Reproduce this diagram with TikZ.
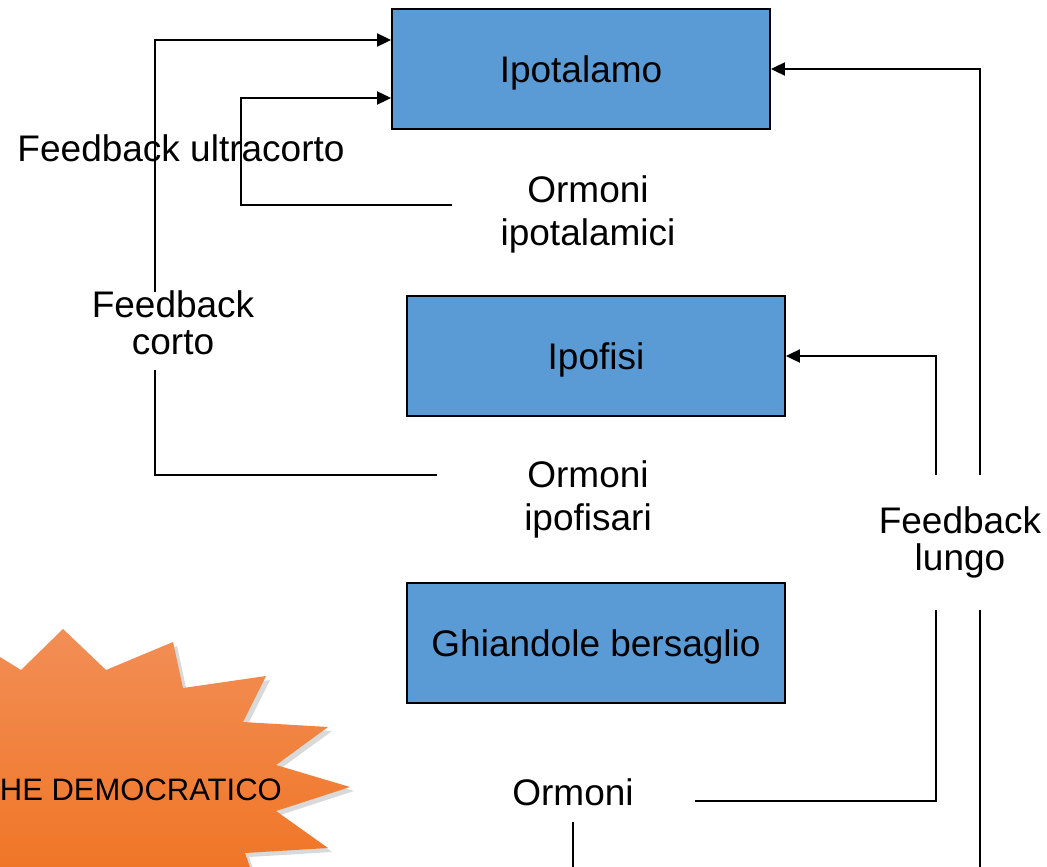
\documentclass[tikz,border=0pt]{standalone}
\usepackage{fontspec}
\setmainfont{Liberation Sans}
\usetikzlibrary{arrows.meta}
\definecolor{boxblue}{RGB}{91,155,213}
\definecolor{burstlight}{RGB}{242,142,86}
\definecolor{burstdark}{RGB}{240,116,34}
\newcommand{\burstpath}{(-8,652) -- (21,670) -- (63,629) -- (106,670) -- (173,642) -- (183,688) -- (266,676) -- (243,722) -- (328,727) -- (276,765) -- (350,787) -- (276,811) -- (328,848) -- (245,853) -- (258,890) -- (-8,890) -- cycle}
\begin{document}
\begin{tikzpicture}[
    x=1pt, y=-1pt,
    gland/.style={rectangle, draw, line width=1.8pt, fill=boxblue, minimum width=378pt, minimum height=120pt, text depth=0pt, font=\fontsize{37}{43}\selectfont},
    hormone/.style={align=center, inner sep=0pt, font=\fontsize{37}{43}\selectfont},
    fblabel/.style={align=center, inner sep=0pt, font=\fontsize{37}{37}\selectfont},
    link/.style={line width=1.9pt},
    arrow/.style={link, -{Triangle[length=14pt,width=13pt]}}
]
\useasboundingbox (0,0) rectangle (1047,867);
\clip (0,0) rectangle (1047,867);

% Starburst in basso a sinistra
\fill[black!25, opacity=0.6, shift={(4,4)}] \burstpath;
\shade[top color=burstlight, bottom color=burstdark] \burstpath;
\node[anchor=base east, inner sep=0pt, font=\fontsize{31}{31}\selectfont] (burst) at (282,800) {HE DEMOCRATICO};

% Ghiandole
\node[gland] (ipot) at (581,69) {Ipotalamo};
\node[gland] (ipof) at (596,356) {Ipofisi};
\node[gland] (ghia) at (596,643) {Ghiandole bersaglio};

% Ormoni
\node[hormone] (ormipt) at (588,214) {Ormoni\\ipotalamici};
\node[hormone] (ormipf) at (588,499) {Ormoni\\ipofisari};
\node[hormone, anchor=base] (ormgh) at (573,805) {Ormoni};

% Etichette feedback
\node[fblabel, anchor=base] (fbultra) at (181,161) {Feedback ultracorto};
\node[fblabel] (fbcorto) at (173,323) {Feedback\\corto};
\node[fblabel] (fblungo) at (960,542) {Feedback\\lungo};

% Estremi liberi delle linee
\coordinate (uc0) at (452,205);
\coordinate (uc1) at (241,205);
\coordinate (co0) at (437,475);
\coordinate (co1) at (155,370);
\coordinate (co2) at (155,292);
\coordinate (lu0) at (936,475);
\coordinate (lu1) at (980,475);
\coordinate (lu2) at (936,610);
\coordinate (lu3) at (980,610);
\coordinate (lu4) at (980,880);
\coordinate (og0) at (695,801);
\coordinate (og1) at (573,822);
\coordinate (og2) at (573,880);

% Feedback ultracorto
\draw[arrow] (uc0) -- (uc1) |- ([yshift=-29pt]ipot.west);

% Feedback corto
\draw[link] (co0) -| (co1);
\draw[arrow] (co2) |- ([yshift=29pt]ipot.west);

% Feedback lungo
\draw[arrow] (lu1) |- (ipot.east);
\draw[arrow] (lu0) |- (ipof.east);
\draw[link] (og0) -| (lu2);
\draw[link] (lu3) -- (lu4);
\draw[link] (og1) -- (og2);

\end{tikzpicture}
\end{document}
